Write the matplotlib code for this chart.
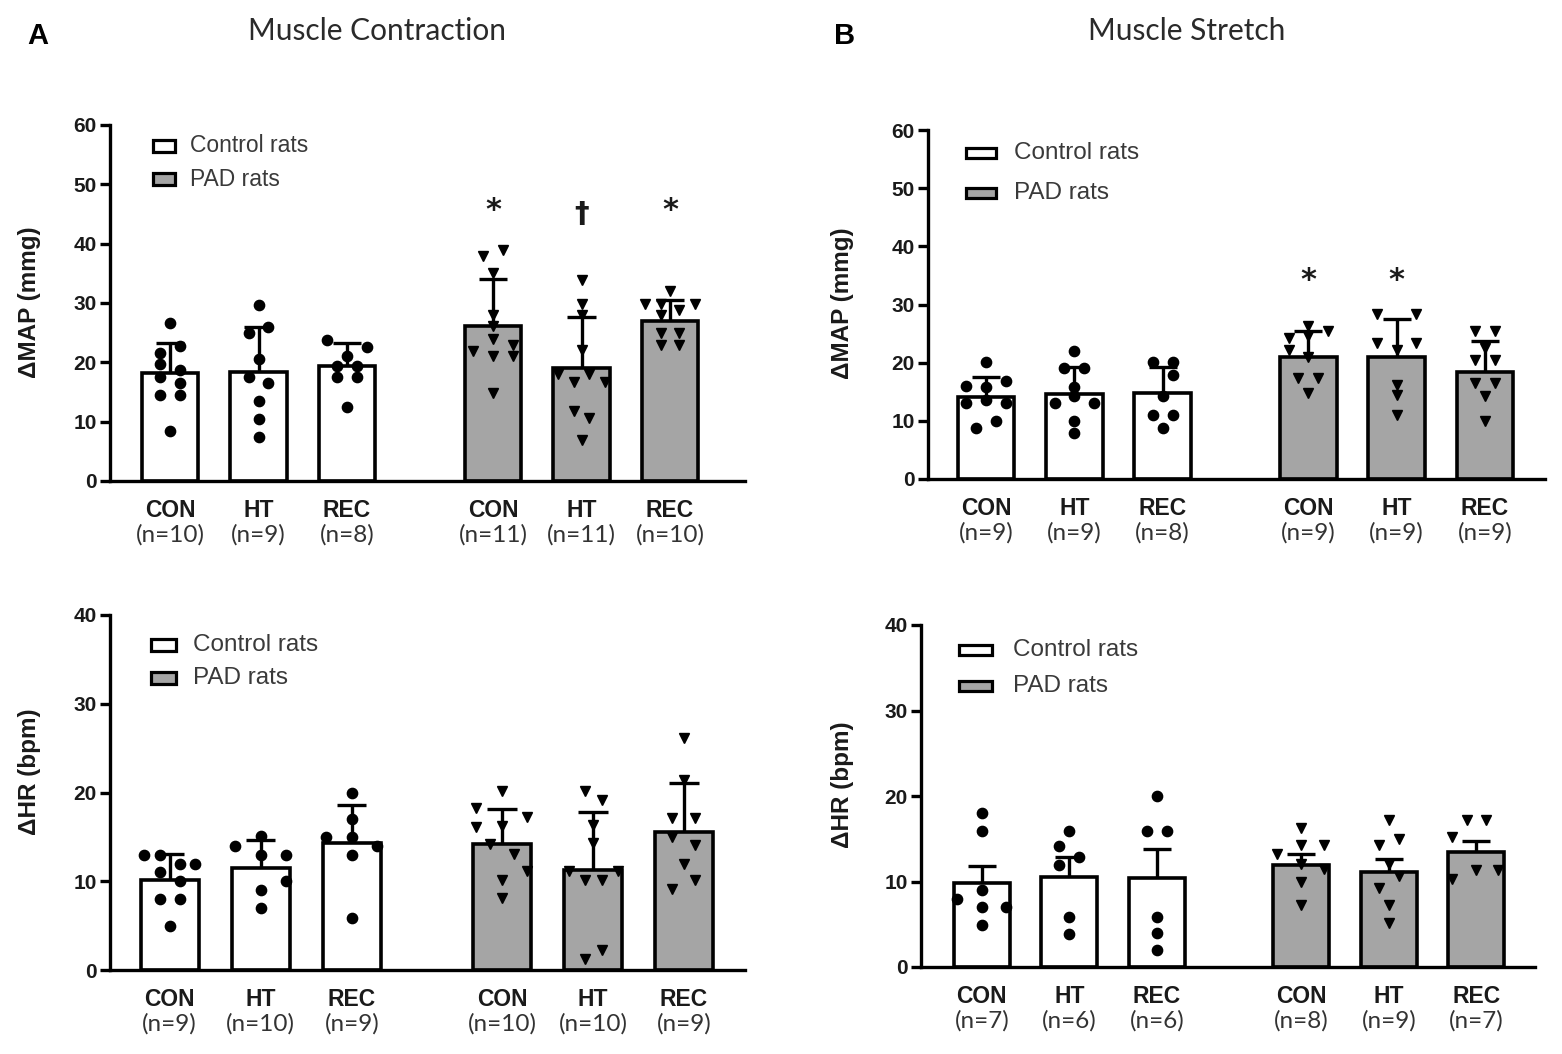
import matplotlib
matplotlib.use('Agg')
import matplotlib.pyplot as plt
from matplotlib.patches import Rectangle
import numpy as np

W, H = 1562, 1054

groups = ['CON', 'HT', 'REC', 'CON', 'HT', 'REC']
legend_labels = ['Control rats', 'PAD rats']

# ---------------- Panel A (top): Muscle contraction, ΔMAP ----------------
a_map_n = [10, 9, 8, 11, 11, 10]
a_map_mean = [18.2, 18.3, 19.3, 26.1, 19.0, 27.0]
a_map_err = [5.1, 7.6, 4.0, 7.9, 8.6, 3.5]
a_map_points = [
    [26.6, 22.8, 21.6, 19.7, 18.7, 17.6, 16.5, 14.5, 14.5, 8.5],
    [29.6, 25.0, 26.0, 20.6, 17.5, 16.5, 13.4, 10.4, 7.5],
    [23.7, 22.5, 21.1, 19.4, 19.4, 17.5, 17.5, 12.5],
    [37.9, 38.9, 35.0, 28.0, 26.1, 24.0, 21.9, 22.9, 21.0, 21.0, 14.9],
    [33.9, 29.9, 28.0, 22.1, 18.0, 18.0, 16.7, 16.7, 11.8, 10.7, 6.9],
    [32.1, 29.9, 29.9, 29.9, 28.9, 28.0, 24.9, 24.9, 22.9, 22.9],
]
a_map_sig = ['', '', '', '*', '\u2020', '*']
a_map_sig_y = [0, 0, 0, 45.6, 45.0, 45.6]

# ---------------- Panel A (bottom): Muscle contraction, ΔHR ----------------
a_hr_n = [9, 10, 9, 10, 10, 9]
a_hr_mean = [10.1, 11.5, 14.3, 14.2, 11.3, 15.5]
a_hr_err = [3.0, 3.2, 4.3, 3.9, 6.5, 5.6]
a_hr_points = [
    [13, 13, 12, 12, 11, 10, 8, 8, 5],
    [15.1, 14, 13, 13, 10, 9, 7],
    [20, 17, 15, 15, 14, 13, 5.9],
    [20.2, 18.2, 16.1, 17.2, 16.2, 14.2, 13.1, 11.1, 10.1, 8.1],
    [20.2, 19.2, 16.3, 14.3, 11.1, 11.1, 10.1, 10.1, 2.3, 1.2],
    [26.1, 21.4, 17.1, 17.1, 15.0, 14.1, 12.0, 10.1, 9.1],
]

# ---------------- Panel B (top): Muscle stretch, ΔMAP ----------------
b_map_n = [9, 9, 8, 9, 9, 9]
b_map_mean = [14.1, 14.6, 14.8, 20.9, 21.0, 18.4]
b_map_err = [3.5, 4.7, 4.5, 4.5, 6.5, 5.4]
b_map_points = [
    [20.1, 16.0, 15.9, 16.8, 13.1, 13.1, 13.6, 8.8, 9.9],
    [22.0, 19.1, 19.1, 15.9, 13.1, 13.1, 14.2, 9.9, 7.9],
    [20.1, 20.1, 17.9, 14.2, 11.0, 11.0, 8.8],
    [26.3, 25.4, 24.5, 24.2, 22.2, 21.0, 17.3, 17.3, 14.8],
    [28.3, 28.3, 23.4, 23.4, 22.2, 16.2, 14.5, 11.0],
    [25.4, 25.4, 22.5, 20.5, 20.5, 16.5, 16.5, 14.2, 9.9],
]
b_map_sig = ['', '', '', '*', '*', '']
b_map_sig_y = [0, 0, 0, 34.2, 34.2, 0]

# ---------------- Panel B (bottom): Muscle stretch, ΔHR ----------------
b_hr_n = [7, 6, 6, 8, 9, 7]
b_hr_mean = [9.8, 10.5, 10.4, 11.9, 11.1, 13.4]
b_hr_err = [2.0, 2.4, 3.35, 1.3, 1.5, 1.3]
b_hr_points = [
    [18, 15.9, 9, 7.9, 7, 7, 4.9],
    [15.9, 14.1, 12.9, 11.9, 5.9, 3.9],
    [20, 15.9, 15.9, 5.9, 4.0, 2.0],
    [16.2, 14.3, 14.3, 13.2, 12.1, 11.5, 10, 7.2],
    [17.2, 15, 14.3, 12.1, 10.7, 9.2, 7.2, 5.1],
    [17.2, 17.2, 15.2, 11.3, 11.3, 10.3],
]

# ---------------- layout / style (not data) ----------------
positions = np.array([0, 1, 2, 3.65, 4.65, 5.65])
bar_w = 0.64
step = 0.112      # horizontal scatter step
a_map_jit = [[0, 1, -1, -1, 1, -1, 1, -1, 1, 0], [0, -1, 1, 0, -1, 1, 0, 0, 0],
             [-2, 2, 0, -1, 1, -1, 1, 0], [-1, 1, 0, 0, 0, 0, -2, 2, 0, 2, 0],
             [0, 0, 0, 0, -2.4, 0.8, -0.8, 2.4, -0.8, 0.8, 0],
             [0, -2.5, -0.9, 2.5, 0.9, -0.9, -0.9, 0.9, -0.9, 0.9]]
a_hr_jit = [[-2.5, -1, 1, 2.5, -1, 1, -1, 1, 0], [0, -2.5, 0, 2.5, 2.5, 0, 0],
            [0, 0, -2.5, 0, 2.5, 0, 0], [0, -2.5, -2.5, 2.5, 0, -1.2, 1.2, 2.5, 0, 0],
            [-0.8, 0.9, 0, 0, -2.4, 2.5, -0.8, 0.9, 0.9, -0.8],
            [0, 0, -1.2, 1.1, -1.2, 1.1, 0, 1.1, -1.2]]
b_map_jit = [[0, -2, 0, 2, -2, 2, 0, -1, 1], [0, -1, 1, 0, -2, 2, 0, 0, 0],
             [-1, 1, 1, 0, -1, 1, 0], [0, 2, 0, -2, -2, 0, -1, 1, 0],
             [-2, 2, -2, 2, 0, 0, 0, 0], [-1, 1, 0, -1, 1, -1, 1, 0, 0]]
b_hr_jit = [[0, 0, 0, -2.5, 0, 2.5, 0], [0, -1, 1, -1, 0, 0], [0, -1, 1, 0, 0, 0],
            [0, 0, 2.3, -2.5, 0, 2.3, 0, 0], [0, 1, -1, 0, 1, -1, 0, 0],
            [-1, 1, -2.5, 0, 2.2, -2.5]]

GRAY = '#a5a5a5'
bar_colors = ['white'] * 3 + [GRAY] * 3
markers = ['o'] * 3 + ['v'] * 3
ARIAL = 'Liberation Sans'
SOFT = 'Lato'

fig = plt.figure(figsize=(W / 100, H / 100), dpi=100)


def px_rect(left, top, right, bottom):
    return [left / W, 1 - bottom / H, (right - left) / W, (bottom - top) / H]


def panel(rect, ylim, yticks, xlim, mean, err, pts, jit, ns, sig=None, sig_y=None):
    ax = fig.add_axes(px_rect(*rect))
    ax.bar(positions, mean, width=bar_w, color=bar_colors, edgecolor='black',
           linewidth=2.6, zorder=2)
    top = np.array(mean) + np.array(err)
    ax.vlines(positions, mean, top, color='black', lw=2.4, zorder=3)
    ax.hlines(top, positions - 0.16, positions + 0.16, color='black', lw=2.4, zorder=3)
    for i in range(6):
        xs = positions[i] + np.array(jit[i]) * step
        ax.plot(xs, pts[i], ls='none', marker=markers[i], ms=7.4, color='black',
                zorder=4, clip_on=False)
    ax.set_ylim(*ylim)
    ax.set_xlim(*xlim)
    ax.set_yticks(yticks)
    ax.set_yticklabels([str(t) for t in yticks], fontfamily=ARIAL, fontweight='bold',
                       fontsize=15, color='#1a1a1a')
    ax.set_xticks([])
    for s in ['top', 'right']:
        ax.spines[s].set_visible(False)
    for s in ['left', 'bottom']:
        ax.spines[s].set_linewidth(2.4)
    ax.tick_params(axis='y', direction='out', length=7.5, width=2.4, pad=2)
    for i in range(6):
        ax.annotate(groups[i], xy=(positions[i], 0), xycoords=('data', 'axes fraction'),
                    xytext=(0, -21), textcoords='offset points', ha='center', va='center',
                    fontfamily=ARIAL, fontweight='bold', fontsize=16.5, color='#1a1a1a')
        ax.annotate('(n=%d)' % ns[i], xy=(positions[i], 0), xycoords=('data', 'axes fraction'),
                    xytext=(0, -39), textcoords='offset points', ha='center', va='center',
                    fontfamily=SOFT, fontsize=17.5, color='#333333')
    if sig is not None:
        for i in range(6):
            if sig[i]:
                ax.text(positions[i], sig_y[i], sig[i], ha='center', va='center',
                        fontsize=22 if sig[i] == '*' else 21, fontweight='bold',
                        fontfamily=['DejaVu Sans'], color='#1a1a1a')
    return ax


def legend(x0, x1, ys, h, tx, fs):
    for y, lab, col in zip(ys, legend_labels, ['white', GRAY]):
        fig.add_artist(Rectangle((x0 / W, 1 - (y + h / 2) / H), (x1 - x0) / W, h / H,
                                 transform=fig.transFigure, facecolor=col,
                                 edgecolor='black', lw=2.3))
        fig.text(tx / W, 1 - y / H, lab, ha='left', va='center', fontfamily=ARIAL,
                 fontsize=fs, color='#3a3a3a')


# Panel A top
panel((110, 125, 745, 481), (0, 60), [0, 10, 20, 30, 40, 50, 60], (-0.678, 6.497),
      a_map_mean, a_map_err, a_map_points, a_map_jit, a_map_n, a_map_sig, a_map_sig_y)
legend(153, 175, [146, 179], 12, 190, 16.5)

# Panel B top
panel((928, 130, 1545, 479), (0, 60), [0, 10, 20, 30, 40, 50, 60], (-0.657, 6.33),
      b_map_mean, b_map_err, b_map_points, b_map_jit, b_map_n, b_map_sig, b_map_sig_y)
legend(966, 996, [153, 193], 10, 1014, 17.5)

# Panel A bottom
panel((110, 615, 745, 970), (0, 40), [0, 10, 20, 30, 40], (-0.656, 6.32),
      a_hr_mean, a_hr_err, a_hr_points, a_hr_jit, a_hr_n)
legend(151, 176, [645, 678], 12, 193, 17.5)

# Panel B bottom
panel((921, 625, 1535, 967), (0, 40), [0, 10, 20, 30, 40], (-0.694, 6.32),
      b_hr_mean, b_hr_err, b_hr_points, b_hr_jit, b_hr_n)
legend(959, 992, [650, 686], 10, 1013, 17.5)

# y labels
fig.text(30 / W, 1 - 302 / H, '\u0394MAP (mmg)', rotation=90, ha='center', va='center',
         fontfamily=ARIAL, fontweight='bold', fontsize=17.5, color='#1a1a1a')
fig.text(843 / W, 1 - 303 / H, '\u0394MAP (mmg)', rotation=90, ha='center', va='center',
         fontfamily=ARIAL, fontweight='bold', fontsize=17.5, color='#1a1a1a')
fig.text(30 / W, 1 - 772 / H, '\u0394HR (bpm)', rotation=90, ha='center', va='center',
         fontfamily=ARIAL, fontweight='bold', fontsize=17.5, color='#1a1a1a')
fig.text(843 / W, 1 - 785 / H, '\u0394HR (bpm)', rotation=90, ha='center', va='center',
         fontfamily=ARIAL, fontweight='bold', fontsize=17.5, color='#1a1a1a')

# titles and panel letters
fig.text(377 / W, 1 - 31 / H, 'Muscle Contraction', ha='center', va='center',
         fontfamily=SOFT, fontsize=21.5, color='#2a2a2a')
fig.text(1187 / W, 1 - 31 / H, 'Muscle Stretch', ha='center', va='center',
         fontfamily=SOFT, fontsize=21.5, color='#2a2a2a')
fig.text(38 / W, 1 - 36 / H, 'A', ha='center', va='center', fontfamily=ARIAL,
         fontweight='bold', fontsize=21, color='black')
fig.text(845 / W, 1 - 36 / H, 'B', ha='center', va='center', fontfamily=ARIAL,
         fontweight='bold', fontsize=21, color='black')

fig.savefig('out.png', dpi=100, facecolor='white')
